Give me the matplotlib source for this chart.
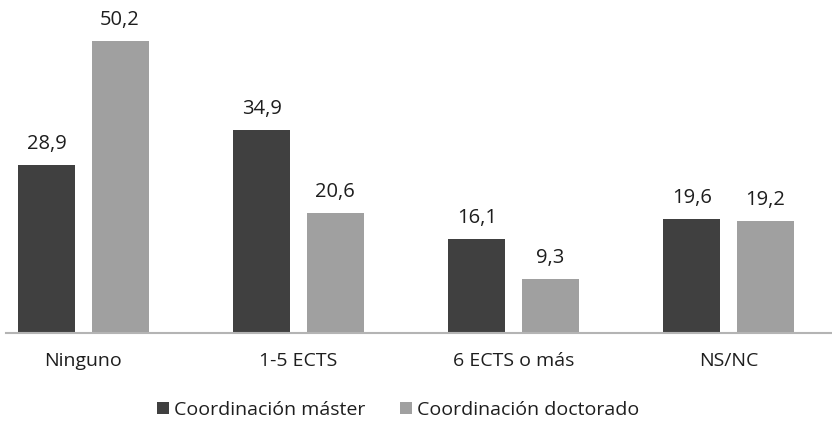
import matplotlib
matplotlib.use("Agg")
import matplotlib.pyplot as plt
import numpy as np

categories = ["Ninguno", "1-5 ECTS", "6 ECTS o más", "NS/NC"]
master = [28.9, 34.9, 16.1, 19.6]
doctorado = [50.2, 20.6, 9.3, 19.2]
series_names = ["Coordinación máster", "Coordinación doctorado"]
labels_master = ["28,9", "34,9", "16,1", "19,6"]
labels_doct = ["50,2", "20,6", "9,3", "19,2"]

plt.rcParams['font.family'] = ['Open Sans', 'DejaVu Sans']

W, H = 832, 422
fig = plt.figure(figsize=(W/100, H/100), dpi=100)
ax_bottom = (H - 333) / H
ax = fig.add_axes([6/W, ax_bottom, (832-6)/W, 333/H])

x = np.arange(len(categories))
bw = 0.265
off = 0.17
dark = "#404040"
light = "#a0a0a0"
txt = "#1e1e1e"
b1 = ax.bar(x - off, master, bw, color=dark, label=series_names[0])
b2 = ax.bar(x + off, doctorado, bw, color=light, label=series_names[1])

for rect, lab in zip(b1, labels_master):
    ax.annotate(lab, (rect.get_x() + rect.get_width()/2, rect.get_height()),
                xytext=(0, 8), textcoords="offset points", ha="center", va="bottom",
                fontsize=14.5, color=txt)
for rect, lab in zip(b2, labels_doct):
    ax.annotate(lab, (rect.get_x() + rect.get_width()/2, rect.get_height()),
                xytext=(0, 8), textcoords="offset points", ha="center", va="bottom",
                fontsize=14.5, color=txt)

left = (6 - 83.5) / 215
right = (832 - 83.5) / 215
ax.set_xlim(left, right)
ax.set_ylim(0, 333 / 5.82)

ax.set_xticks(x)
ax.set_xticklabels(categories, fontsize=14, color=txt)
ax.tick_params(axis="x", length=0, pad=14)
ax.set_yticks([])
for s in ["top", "right", "left"]:
    ax.spines[s].set_visible(False)
ax.spines["bottom"].set_color("#b4b4b4")
ax.spines["bottom"].set_linewidth(1.5)

leg = fig.legend(handles=[b1, b2], labels=series_names, loc="center",
                 bbox_to_anchor=(398/W, 1 - 410/H), ncol=2, frameon=False,
                 fontsize=14, handlelength=0.6, handleheight=0.6,
                 handletextpad=0.25, columnspacing=1.8, labelcolor=txt)

fig.savefig("out.png", dpi=100)
